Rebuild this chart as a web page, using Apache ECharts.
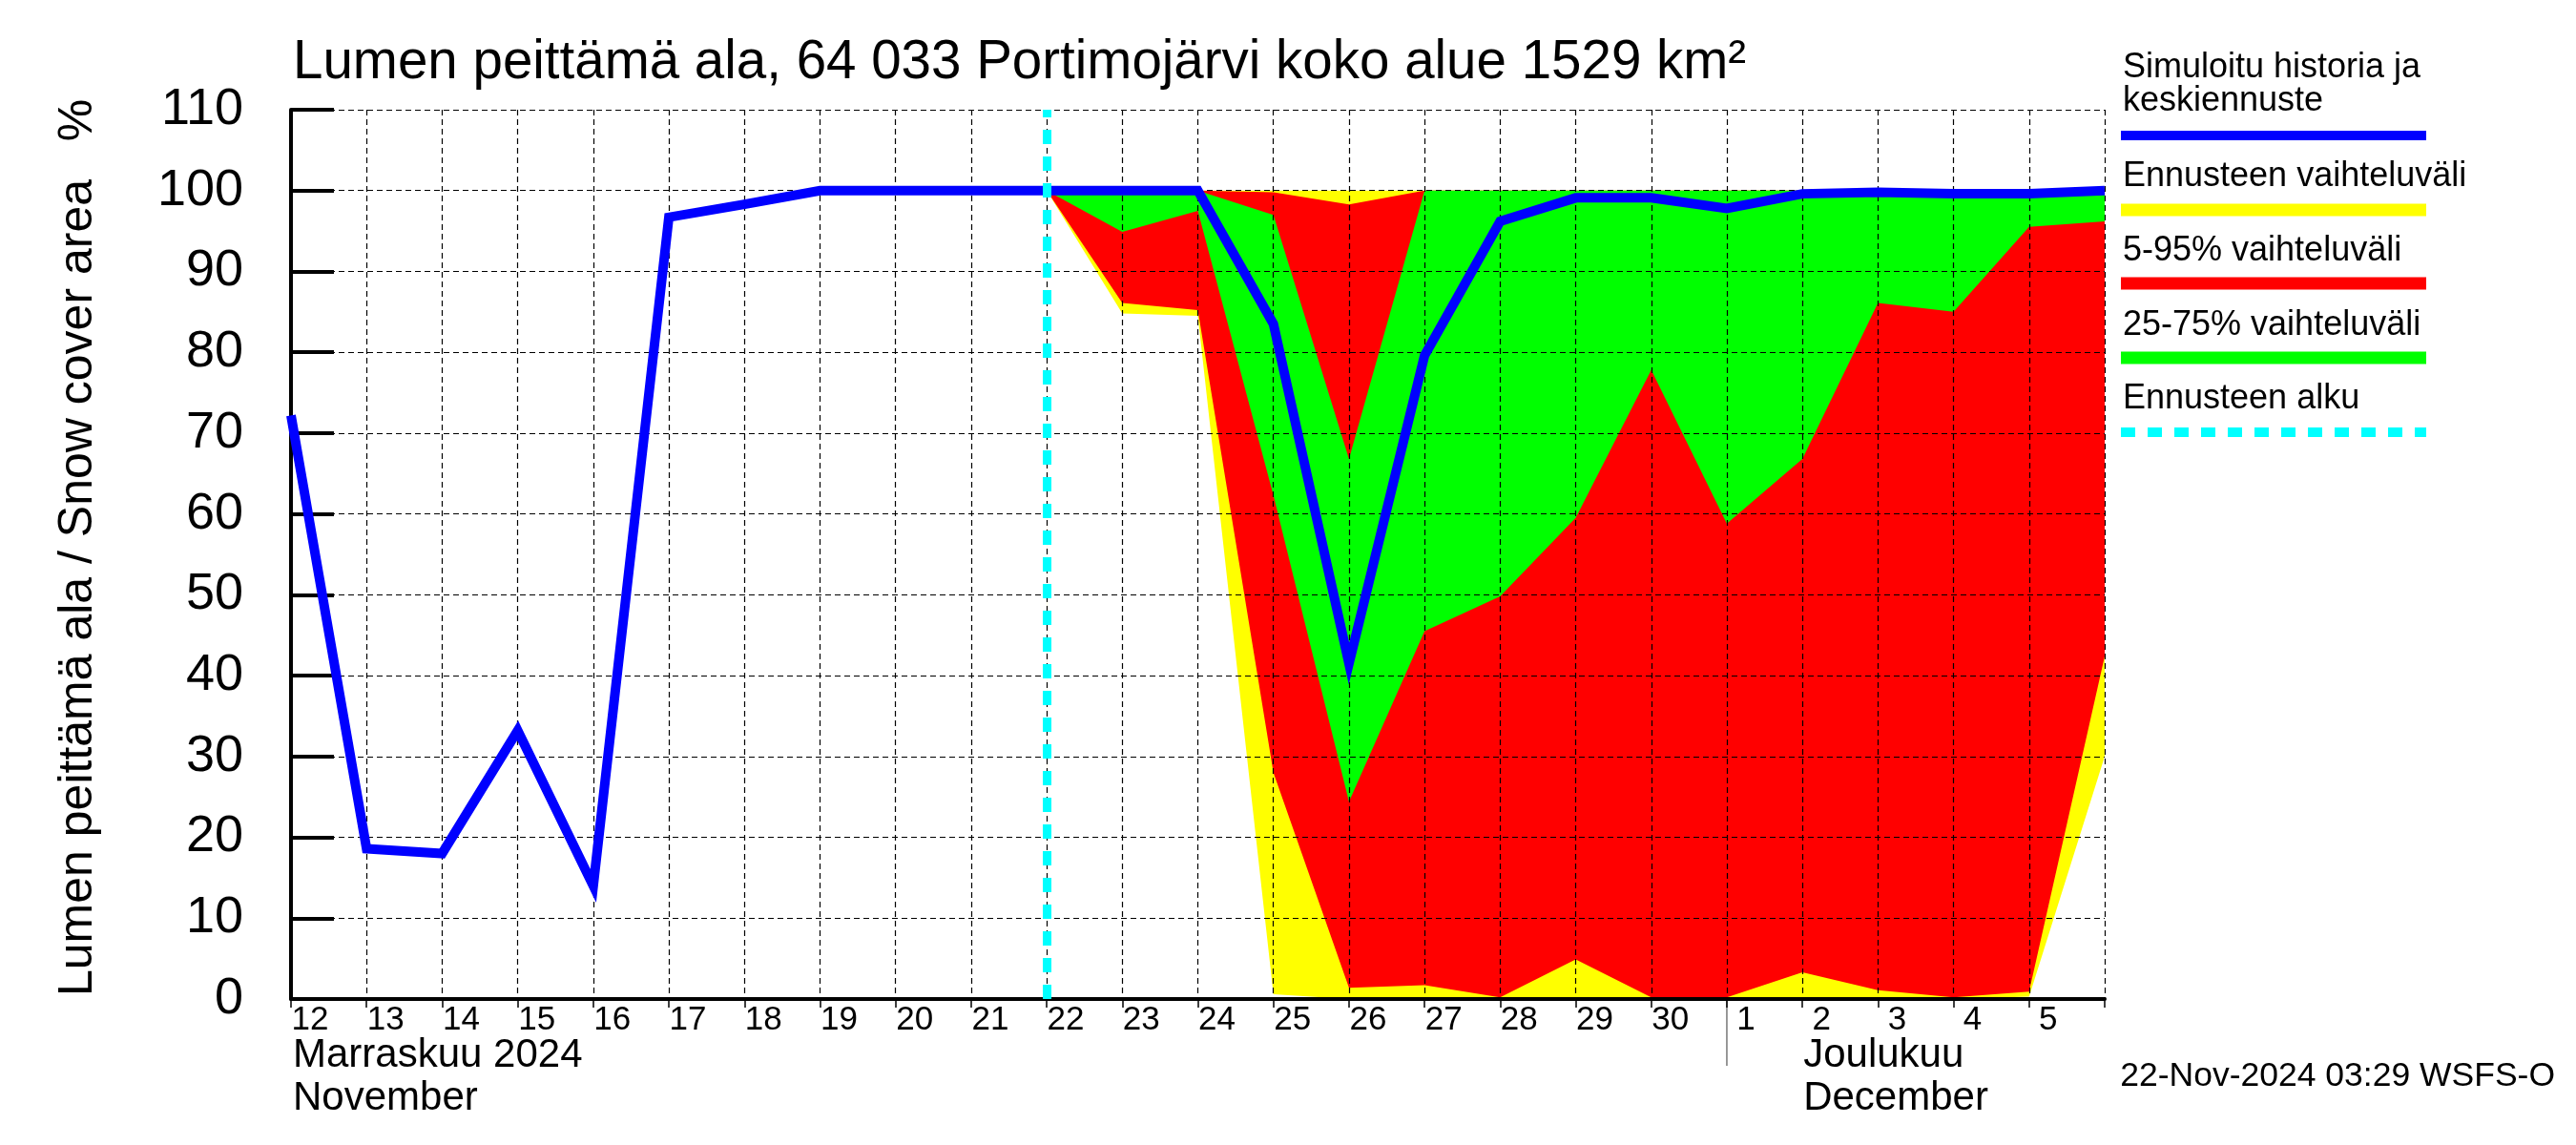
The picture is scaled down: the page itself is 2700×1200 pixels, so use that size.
<!DOCTYPE html>
<html>
<head>
<meta charset="utf-8">
<script src="https://cdn.jsdelivr.net/npm/echarts@6/dist/echarts.min.js"></script>
<style>html,body{margin:0;padding:0;background:#fff}#c{width:2700px;height:1200px}</style>
</head>
<body>
<div id="c"></div>
<script>
// ---- data ----
const dates = ['2024-11-12','2024-11-13','2024-11-14','2024-11-15','2024-11-16','2024-11-17','2024-11-18','2024-11-19','2024-11-20','2024-11-21','2024-11-22','2024-11-23','2024-11-24','2024-11-25','2024-11-26','2024-11-27','2024-11-28','2024-11-29','2024-11-30','2024-12-01','2024-12-02','2024-12-03','2024-12-04','2024-12-05','2024-12-06'];
const dayLabels = ['12','13','14','15','16','17','18','19','20','21','22','23','24','25','26','27','28','29','30','1','2','3','4','5',''];
const yTicks = [0,10,20,30,40,50,60,70,80,90,100,110];
const simulated = [72.2,18.6,18.0,33.2,14.0,96.7,98.3,100,100,100,100,100,100,83.5,41.5,79.6,96.2,99.1,99.1,97.8,99.6,99.8,99.6,99.6,100];
const N = null;
const bandMax = [N,N,N,N,N,N,N,N,N,N,100,100,100,100,100,100,100,100,100,100,100,100,100,100,100];
const bandP95 = [N,N,N,N,N,N,N,N,N,N,100,100,100,99.8,98.3,100,100,100,100,100,100,100,100,100,100];
const bandP75 = [N,N,N,N,N,N,N,N,N,N,100,99.6,100,97.0,66.8,100,100,100,100,100,100,100,100,100,100];
const bandP25 = [N,N,N,N,N,N,N,N,N,N,100,94.9,97.5,62.3,24.4,45.5,49.8,59.5,77.8,58.8,66.8,86.1,85.0,95.5,96.2];
const bandP5  = [N,N,N,N,N,N,N,N,N,N,100,86.1,85.2,28.0,1.4,1.7,0.2,4.9,0.2,0.2,3.3,1.1,0.2,0.9,42.4];
const bandMin = [N,N,N,N,N,N,N,N,N,N,100,84.8,84.5,0.6,0,0,0,0,0,0,0,0,0,0.3,30.0];
const forecastStart = '2024-11-22';
const titleText = 'Lumen peittämä ala, 64 033 Portimojärvi koko alue 1529 km²';
const yName = 'Lumen peittämä ala / Snow cover area';
const legendItems = [
  ['Simuloitu historia ja', 'keskiennuste'],
  ['Ennusteen vaihteluväli'],
  ['5-95% vaihteluväli'],
  ['25-75% vaihteluväli'],
  ['Ennusteen alku']
];
const stamp = '22-Nov-2024 03:29 WSFS-O';

// ---- chart ----
const FF = '"Liberation Sans", Arial, Helvetica, sans-serif';
const chart = echarts.init(document.getElementById('c'), null, {renderer: 'canvas'});
const toData = arr => arr.map(v => v == null ? '-' : v);
function area(name, arr, color) {
  return {
    name, type: 'line', data: toData(arr), symbol: 'none', showSymbol: false,
    lineStyle: {width: 0, opacity: 0}, areaStyle: {color, opacity: 1, origin: 'start'},
    z: 1, silent: true, connectNulls: false
  };
}
const grid = {left: 305, right: 494, top: 115, bottom: 153, containLabel: false, outerBoundsMode: 'none'};
const dash = {type: [6, 4], color: '#000', width: 1.2};
const option = {
  animation: false,
  backgroundColor: '#fff',
  title: {text: titleText, left: 307, top: 38, padding: 0,
    textStyle: {fontSize: 56.5, fontWeight: 'normal', fontFamily: FF, color: '#000'}},
  grid,
  xAxis: {
    type: 'category', data: dates, boundaryGap: false, z: 2,
    axisLine: {show: true, onZero: false, lineStyle: {color: '#000', width: 4}},
    axisTick: {show: true, interval: 0, length: 9, lineStyle: {color: '#000', width: 1.5}},
    axisLabel: {interval: 0, formatter: (v, i) => dayLabels[i], fontSize: 35, fontFamily: FF,
      color: '#000', margin: 5, padding: [0, 0, 0, 40], showMinLabel: true, showMaxLabel: true},
    splitLine: {show: true, interval: 0, lineStyle: dash}
  },
  yAxis: {
    type: 'value', min: yTicks[0], max: yTicks[yTicks.length - 1], interval: 10, z: 2,
    axisLine: {show: true, lineStyle: {color: '#000', width: 4}},
    axisTick: {show: true, inside: true, length: 45, lineStyle: {color: '#000', width: 4}},
    axisLabel: {fontSize: 54, fontFamily: FF, color: '#000', margin: 50},
    splitLine: {show: true, lineStyle: dash}
  },
  series: [
    area('max', bandMax, '#ffff00'),
    area('p95', bandP95, '#ff0000'),
    area('p75', bandP75, '#00ff00'),
    area('p25', bandP25, '#ff0000'),
    area('p5', bandP5, '#ffff00'),
    area('min', bandMin, '#ffffff'),
    {name: 'start', type: 'line', data: [], z: 2.5, silent: true,
      markLine: {silent: true, symbol: ['none', 'none'], label: {show: false},
        lineStyle: {color: '#00ffff', width: 9, type: [15, 13], cap: 'butt'},
        data: [{xAxis: forecastStart}]}},
    {name: 'sim', type: 'line', data: simulated, symbol: 'none', showSymbol: false, z: 3,
      lineStyle: {color: '#0000ff', width: 10, join: 'miter', miterLimit: 10}}
  ]
};
chart.setOption(option);

// ---- decorations (text, legend) ----
const dec1 = chart.convertToPixel({xAxisIndex: 0}, '2024-12-01');
const dec2 = chart.convertToPixel({xAxisIndex: 0}, '2024-12-02');
const nov12 = chart.convertToPixel({xAxisIndex: 0}, '2024-11-12');
const axisY = chart.convertToPixel({yAxisIndex: 0}, 0);
const txt = (text, x, y, size, extra) => Object.assign({type: 'text', x, y, silent: true,
  style: {text, fill: '#000', font: size + 'px ' + FF, align: 'left', verticalAlign: 'middle'}}, extra || {});
const hline = (y, color, w, lineDash) => ({type: 'line', silent: true,
  shape: {x1: 2223, y1: y, x2: 2543, y2: y},
  style: {stroke: color, lineWidth: w, lineDash: lineDash || null, lineCap: 'butt'}});
const LX = 2225;
const graphics = [
  txt(yName, 82, axisY - 3, 50, {rotation: Math.PI / 2}),
  txt('%', 82, 126, 50, {rotation: Math.PI / 2}),
  txt(legendItems[0][0], LX, 71, 36),
  txt(legendItems[0][1], LX, 106, 36),
  hline(142, '#0000ff', 10),
  txt(legendItems[1][0], LX, 185, 36),
  hline(220, '#ffff00', 13),
  txt(legendItems[2][0], LX, 263, 36),
  hline(297, '#ff0000', 13),
  txt(legendItems[3][0], LX, 341, 36),
  hline(375, '#00ff00', 13),
  txt(legendItems[4][0], LX, 418, 36),
  hline(453, '#00ffff', 10, [15, 13]),
  txt('Marraskuu 2024', nov12 + 2, 1106, 42),
  txt('November', nov12 + 2, 1151, 42),
  txt('Joulukuu', dec2 + 1, 1106, 42),
  txt('December', dec2 + 1, 1151, 42),
  {type: 'line', silent: true, shape: {x1: dec1, y1: axisY + 2, x2: dec1, y2: 1117},
    style: {stroke: '#777', lineWidth: 1.5}},
  {type: 'text', x: 2678, y: 1128, silent: true,
    style: {text: stamp, fill: '#000', font: '35.5px ' + FF, align: 'right', verticalAlign: 'middle'}}
];
graphics[1].style.align = 'center';
chart.setOption({graphic: graphics});
</script>
</body>
</html>
